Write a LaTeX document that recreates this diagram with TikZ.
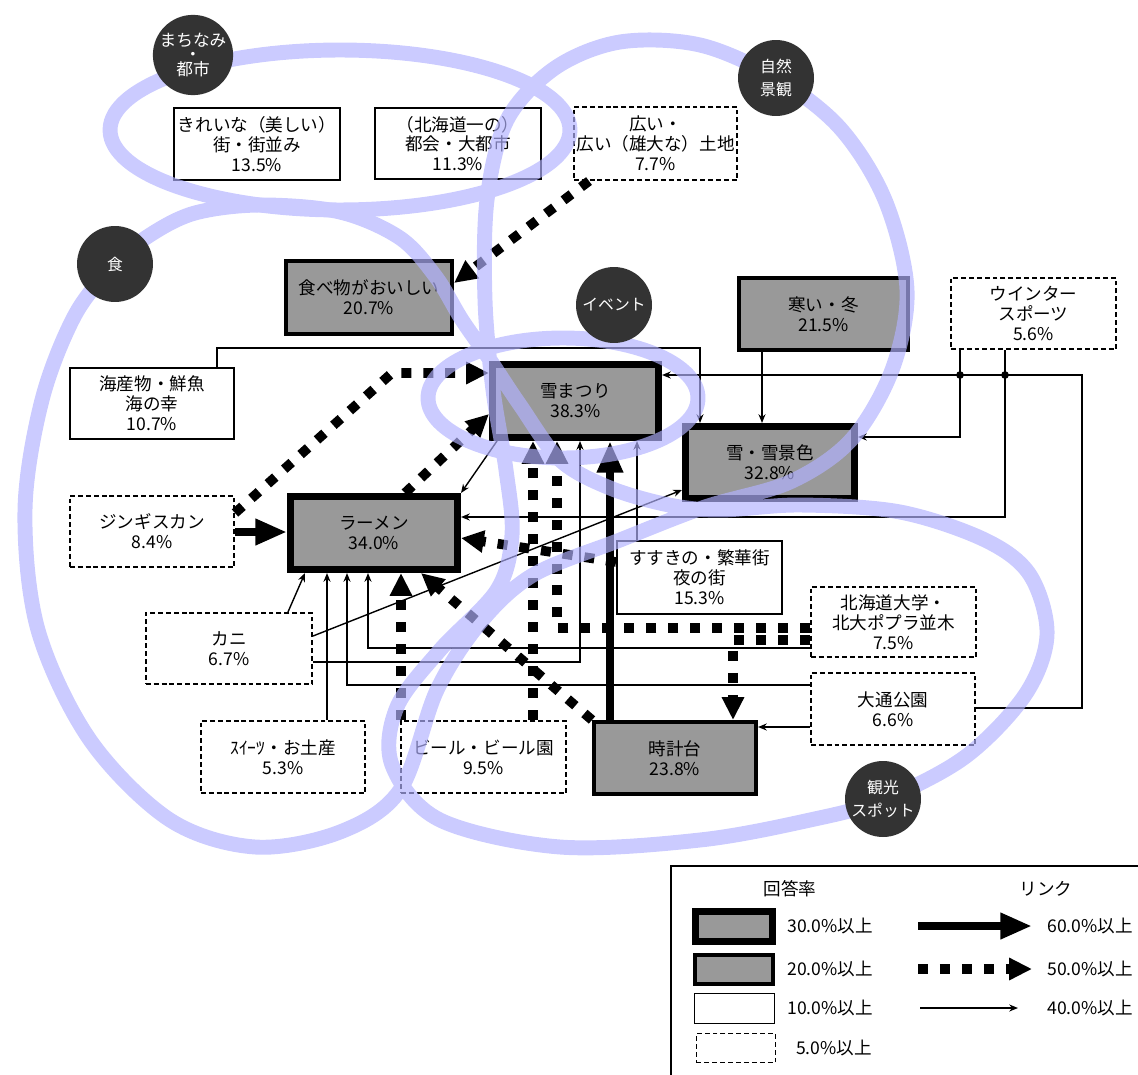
\documentclass[tikz,border=0pt]{standalone}
\usepackage{fontspec}
\setmainfont{Noto Sans CJK JP}
\usetikzlibrary{arrows.meta,calc}
\definecolor{boxgray}{RGB}{153,153,153}
\definecolor{circgray}{RGB}{51,51,51}
\definecolor{loopc}{RGB}{178,178,255}
\tikzset{
 bx/.style={rectangle, align=center, inner sep=0pt, font=\fontsize{10}{11.3}\selectfont, text=black},
 b30/.style={bx, draw, fill=boxgray, line width=4pt},
 b20/.style={bx, draw, fill=boxgray, line width=2.3pt},
 b10/.style={bx, draw, fill=white, line width=0.9pt},
 b5/.style={bx, draw, fill=white, line width=0.9pt, dash pattern=on 2.8pt off 1.7pt},
 cat/.style={circle, fill=circgray, text=white, minimum size=1.52cm, inner sep=0pt, align=center},
 l60/.style={line width=5pt, -{Triangle[length=18pt,width=14pt]}},
 l50/.style={line width=5.5pt, dash pattern=on 5.7pt off 6.8pt, -{Triangle[length=13pt,width=12pt]}},
 l40/.style={line width=0.8pt, -{Stealth[length=5pt,width=4pt]}},
 band/.style={draw=loopc, line width=8.5pt},
 lg/.style={font=\fontsize{10}{12}\selectfont, inner sep=0pt},
}
\begin{document}
\begin{tikzpicture}[x=0.02cm, y={(0cm,-0.02cm)}]
\useasboundingbox (0,0) rectangle (1138,1074);

% boxes
\node[b10, minimum width=3.33cm, minimum height=1.45cm] (k1) at (257,144) {きれいな（美しい）\\街・街並み\\13.5\%};
\node[b10, minimum width=3.33cm, minimum height=1.43cm] (k2) at (458,143.5) {（北海道一の）\\都会・大都市\\11.3\%};
\node[b5, minimum width=3.27cm, minimum height=1.47cm] (k3) at (655.5,143.5) {広い・\\広い（雄大な）土地\\7.7\%};
\node[b20, minimum width=3.32cm, minimum height=1.46cm] (tabemono) at (369,297.5) {食べ物がおいしい\\20.7\%};
\node[b20, minimum width=3.38cm, minimum height=1.44cm] (samui) at (823.5,314) {寒い・冬\\21.5\%};
\node[b5, minimum width=3.31cm, minimum height=1.43cm] (winter) at (1033.5,313.5) {ウインター\\スポーツ\\5.6\%};
\node[b10, minimum width=3.29cm, minimum height=1.43cm] (kaisan) at (152,403.5) {海産物・鮮魚\\海の幸\\10.7\%};
\node[b30, minimum width=3.32cm, minimum height=1.46cm] (matsuri) at (575.5,401) {雪まつり\\38.3\%};
\node[b30, minimum width=3.38cm, minimum height=1.44cm] (geshiki) at (770,462.5) {雪・雪景色\\32.8\%};
\node[b5, minimum width=3.29cm, minimum height=1.43cm] (jingis) at (152,531.5) {ジンギスカン\\8.4\%};
\node[b30, minimum width=3.34cm, minimum height=1.46cm] (ramen) at (374,533) {ラーメン\\34.0\%};
\node[b10, minimum width=3.31cm, minimum height=1.47cm] (susukino) at (699.5,577.5) {すすきの・繁華街\\夜の街\\15.3\%};
\node[b5, minimum width=3.33cm, minimum height=1.43cm] (kani) at (229,648.5) {カニ\\6.7\%};
\node[b5, minimum width=3.31cm, minimum height=1.41cm] (hokudai) at (893.5,622) {北海道大学・\\北大ポプラ並木\\7.5\%};
\node[b5, minimum width=3.29cm, minimum height=1.45cm] (odori) at (893,709) {大通公園\\6.6\%};
\node[b5, minimum width=3.29cm, minimum height=1.45cm] (sweets) at (283,757) {ｽｲｰﾂ・お土産\\5.3\%};
\node[b5, minimum width=3.31cm, minimum height=1.45cm] (beer) at (483.5,757) {ビール・ビール園\\9.5\%};
\node[b20, minimum width=3.24cm, minimum height=1.44cm] (tokei) at (675,758) {時計台\\23.8\%};

% connectors
\draw[l50] (k3.south west -| 589,0) -- (tabemono.east |- 0,283);
\draw[l60] (jingis.east |- 0,532) -- (ramen.west |- 0,532);
\draw[l50] (jingis.east |- 0,513) -- (392,373) -- (matsuri.west |- 0,373);
\draw[l50] (ramen.north -| 405,0) -- (matsuri.west |- 0,414);
\draw[l40] (matsuri.south -| 497,0) -- (ramen.north east);
\draw[l40] (kaisan.north -| 217,0) |- (700,348) -- (geshiki.north -| 700,0);
\draw[l40] (samui.south -| 762,0) -- (geshiki.north -| 762,0);
\draw[l40] (winter.south -| 960,0) |- (geshiki.east |- 0,437);
\draw[l40] (winter.south -| 1005,0) |- (ramen.east |- 0,517);
\draw[l40] (odori.east |- 0,708) -| (1082,375) -- (matsuri.east |- 0,375);
\fill (960,375) circle[radius=2.2pt];
\fill (1005,375) circle[radius=2.2pt];
\draw[l50] (beer.north -| 533,0) -- (matsuri.south -| 533,0);
\draw[l50] (hokudai.west |- 0,628) -| (matsuri.south -| 557,0);
\draw[l50] (hokudai.west |- 0,640) -| (tokei.north -| 733,0);
\draw[l40] (kani.east |- 0,662) -| (matsuri.south -| 580,0);
\draw[l60] (tokei.north -| 610,0) -- (matsuri.south -| 610,0);
\draw[l40] (susukino.north -| 637,0) -- (matsuri.south -| 637,0);
\draw[l40] (kani.north -| 288,0) -- (ramen.south -| 305,0);
\draw[l40] (sweets.north -| 327,0) -- (ramen.south -| 327,0);
\draw[l40] (odori.west |- 0,685) -| (ramen.south -| 347,0);
\draw[l40] (hokudai.west |- 0,648) -| (ramen.south -| 368,0);
\draw[l50] (beer.north -| 401,0) -- (ramen.south -| 401,0);
\draw[l50] (tokei.north west) -- (ramen.south -| 421,0);
\draw[l40] (kani.east |- 0,636) -- (geshiki.west |- 0,490);
\draw[l50] (susukino.west |- 0,562) -- (ramen.east |- 0,538);
\draw[l40] (odori.west |- 0,727) -- (tokei.east |- 0,727);

% category bands
\begin{scope}[transparency group, opacity=0.67]
\draw[band] (340,130) ellipse [x radius=4.6cm, y radius=1.6cm];
\draw[band] (563,398) ellipse [x radius=2.7cm, y radius=1.2cm];
\draw[band] plot[smooth cycle, tension=0.55] coordinates {(436,277) (400,238) (340,212) (260,205) (195,213) (150,235) (115,264) (75,315) (42,400) (25,510) (38,630) (90,740) (170,820) (255,847) (340,832) (400,790) (437,690) (480,623) (533,575) (620,540) (705,507) (790,482) (851,440) (892,370) (907,290) (885,200) (840,128) (776,78) (700,45) (620,42) (555,68) (507,120) (487,200) (485,300) (493,390) (506,470) (512,535) (497,590) (440,650) (397,707) (392,765) (440,820) (560,847) (700,840) (810,820) (883,800) (965,757) (1025,695) (1047,635) (1030,575) (985,540) (900,512) (800,505) (720,510) (669,505) (610,488) (560,460) (520,405) (490,360) (462,320)};
\end{scope}

% category circles
\node[cat, minimum size=1.48cm, font=\fontsize{9.5}{8}\selectfont] (cMachi) at (193,55) {まちなみ\\・\\都市};
\node[cat, font=\fontsize{9}{13}\selectfont] (cShizen) at (776,78) {自然\\景観};
\node[cat, font=\fontsize{9}{11}\selectfont] (cShoku) at (115,264) {食};
\node[cat, font=\fontsize{9}{11}\selectfont] (cEvent) at (614,305) {イベント};
\node[cat, font=\fontsize{9}{13}\selectfont] (cKanko) at (883,799) {観光\\スポット};

% legend
\draw[line width=0.9pt] (671,1080) -- (671,866) -- (1145,866);
\node[lg] (lgT1) at (790,889) {回答率};
\node[lg] (lgT2) at (1046,889) {リンク};
\node[b30, minimum width=1.54cm, minimum height=0.6cm] (lgB1) at (734,926.5) {};
\node[b20, minimum width=1.56cm, minimum height=0.58cm] (lgB2) at (734,969.5) {};
\node[b10, minimum width=1.6cm, minimum height=0.6cm] (lgB3) at (734.5,1008.5) {};
\node[b5, minimum width=1.58cm, minimum height=0.58cm] (lgB4) at (736,1048) {};
\node[lg] (lgL1) at (830,926) {30.0\%以上};
\node[lg] (lgL2) at (830,969) {20.0\%以上};
\node[lg] (lgL3) at (830,1008) {10.0\%以上};
\node[lg] (lgL4) at (834,1048) {5.0\%以上};
\coordinate (la1) at (918,926); \coordinate (lb1) at (1032,926);
\coordinate (la2) at (918,969); \coordinate (lb2) at (1032,969);
\coordinate (la3) at (920,1008); \coordinate (lb3) at (1018,1008);
\draw[l60] (la1) -- (lb1);
\draw[l50] (la2) -- (lb2);
\draw[l40] (la3) -- (lb3);
\node[lg] (lgR1) at (1090,926) {60.0\%以上};
\node[lg] (lgR2) at (1090,969) {50.0\%以上};
\node[lg] (lgR3) at (1090,1008) {40.0\%以上};
\end{tikzpicture}
\end{document}
